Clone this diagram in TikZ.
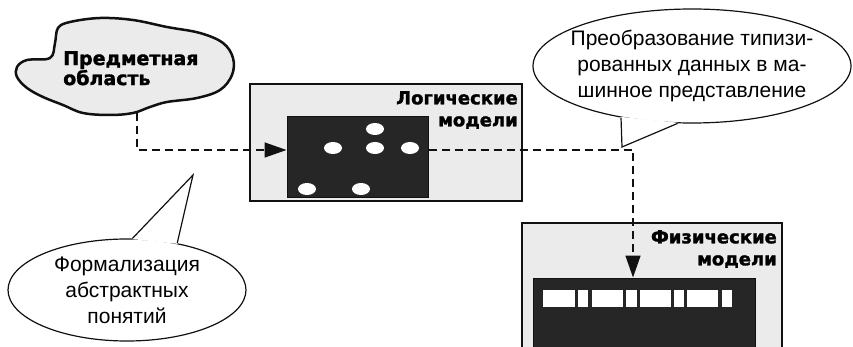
\documentclass[tikz,border=0pt]{standalone}
\usepackage{fontspec}
\setmainfont{Liberation Sans}
\newfontfamily\heavyfont{DejaVu Sans}[BoldFeatures={FakeBold=1.6}]
\usetikzlibrary{arrows.meta,positioning,calc,shapes.geometric}
\definecolor{speckle}{HTML}{EBEBEB}
\definecolor{inkfill}{HTML}{262626}
\definecolor{frameline}{HTML}{111111}

\begin{document}
\begin{tikzpicture}[x=1pt,y=-1pt,
  panel/.style={draw=frameline,line width=2pt,fill=speckle,inner sep=0pt},
  darkset/.style={fill=inkfill,draw=frameline,line width=1pt,inner sep=0pt},
  heading/.style={font=\heavyfont\bfseries\fontsize{18}{22}\selectfont,align=right,inner sep=0pt,anchor=north east},
  bubble/.style={ellipse,draw=frameline,line width=1.2pt,fill=white,align=center,
    font=\fontsize{21}{26}\selectfont,inner sep=0pt},
  tailfill/.style={fill=white,draw=white,line width=1.4pt,line join=round},
  tailline/.style={draw=frameline,line width=1.2pt,line join=miter},
  flow/.style={line width=1.6pt,dash pattern=on 8pt off 5pt,draw=frameline},
  arrowed/.style={-{Triangle[length=22pt,width=15pt]}}
]
\useasboundingbox (0,0) rectangle (853,347);
\clip (0,0) rectangle (853,347);
% subject domain cloud
\draw[line width=2.5pt,draw=frameline,fill=speckle] plot[smooth cycle,tension=0.6] coordinates {
  (27,60) (50,58) (55,43) (58,28) (70,22) (100,18) (133,20) (167,27) (200,33) (223,43)
  (233,58) (232,75) (220,90) (197,98) (167,102) (150,107) (133,113) (110,115) (83,113)
  (63,105) (43,97) (27,88) (17,77) (17,67)};
\node[font=\heavyfont\bfseries\fontsize{19}{20}\selectfont,align=left,anchor=north west,inner sep=0pt]
  (domain) at (63,51) {Предметная\\область};
\coordinate (cloudfoot) at (137,113);
% logical models
\node[panel,minimum width=272pt,minimum height=117pt] (logic) at (386,142.5) {};
\node[heading] (logictitle) at (518,91) {Логические\\модели};
\node[darkset,minimum width=141pt,minimum height=81pt] (logicset) at (357.5,157.5) {};
\foreach \ex/\ey in {375/129,333/148,375/148,410/148,307/189,361/189}
  \fill[white] (\ex,\ey) ellipse [x radius=9,y radius=6];
% physical models
\node[panel,minimum width=260pt,minimum height=137pt] (phys) at (652,291.5) {};
\node[heading] (phystitle) at (777,230) {Физические\\модели};
\node[darkset,minimum width=222pt,minimum height=82pt] (physset) at (644,319) {};
\foreach \ca/\cb in {543/575,578/588,592/623,626/637,640/671,674/684,687/718,722/732}
  \fill[white] (\ca,290) rectangle (\cb,307);
% callouts
\coordinate (formaltip) at (193,175);
\coordinate (converttip) at (622,147);
\node[bubble,minimum width=238pt,minimum height=102pt,inner xsep=-6pt] (formal) at (127,290)
  {Формализация\\абстрактных\\понятий};
\path[tailfill] (formal.84) -- (formaltip) -- (formal.43) -- cycle;
\draw[tailline] (formal.84) -- (formaltip) -- (formal.43);
\node[bubble,minimum width=318pt,minimum height=114pt,inner xsep=-16pt] (convert) at (692,66)
  {Преобразование типизи-\\рованных данных в ма-\\шинное представление};
\path[tailfill] (convert.216) -- (converttip) -- (convert.256) -- cycle;
\draw[tailline] (convert.216) -- (converttip) -- (convert.256);
% flows
\coordinate (bend) at (137,150);
\coordinate (drop) at (633,150);
\draw[flow,arrowed] (cloudfoot) -- (bend) -- (bend -| logicset.west);
\draw[flow,arrowed] (bend -| logicset.east) -- (drop) -- (drop |- physset.north);
\end{tikzpicture}
\end{document}
